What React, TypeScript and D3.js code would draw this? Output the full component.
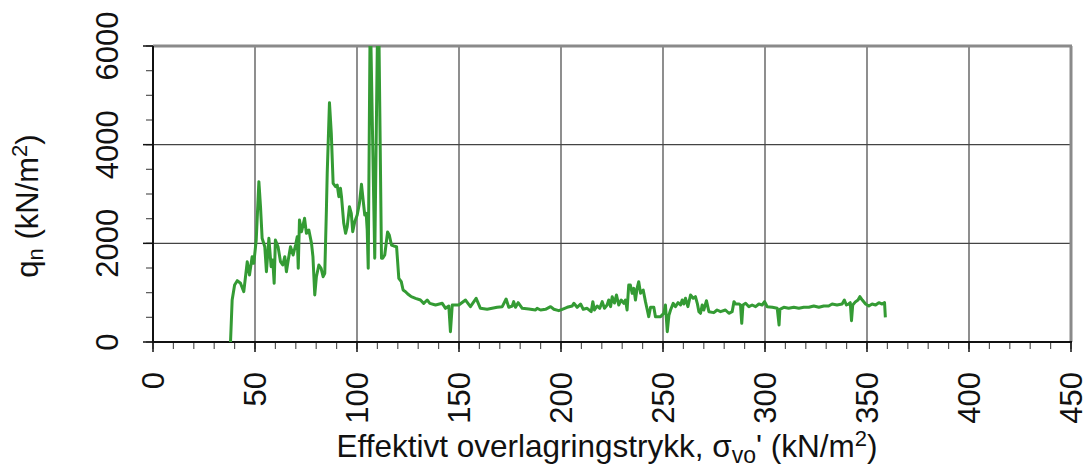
import React from 'react';
import * as d3 from 'd3';

// Tick labels
const xTickValues = [0, 50, 100, 150, 200, 250, 300, 350, 400, 450];
const yTickValues = [0, 2000, 4000, 6000];

// Effective overburden stress σvo' (kN/m2)
const stress = [
  38.0, 38.8, 40.0, 41.3, 42.9, 44.5, 46.2, 47.3, 48.6, 49.4, 50.6, 51.9, 52.7, 53.5, 54.8, 55.6,
  56.8, 57.9, 58.7, 59.4, 60.0, 61.3, 62.5, 63.6, 64.6, 65.4, 66.3, 67.4, 68.7, 69.9, 70.7, 71.2,
  71.8, 72.8, 74.3, 75.2, 76.4, 77.7, 78.4, 79.3, 80.1, 81.3, 82.4, 83.4, 84.2, 85.0, 85.4, 86.5,
  87.4, 88.3, 89.5, 90.3, 91.1, 91.9, 92.4, 93.5, 94.4, 95.2, 96.3, 97.2, 97.9, 98.9, 100.1, 101.2,
  102.2, 103.0, 103.8, 104.5, 105.0, 105.5, 106.5, 108.7, 110.4, 112.0, 112.6, 113.6, 114.5, 115.0,
  115.8, 116.9, 118.0, 119.4, 120.5, 121.7, 122.6, 123.8, 124.9, 126.6, 128.7, 131.1, 132.7, 134.4,
  135.7, 138.5, 141.8, 143.4, 145.0, 145.8, 146.7, 149.9, 153.2, 155.6, 158.4, 160.5, 163.8, 168.7,
  171.2, 173.1, 174.4, 176.1, 176.8, 177.7, 179.0, 181.0, 184.2, 187.5, 188.3, 190.0, 192.4, 194.9,
  196.5, 198.9, 200.6, 203.0, 205.5, 206.3, 207.9, 209.6, 210.9, 212.8, 214.8, 215.6, 216.4, 217.7,
  219.0, 220.2, 221.3, 222.6, 223.4, 224.3, 225.1, 226.2, 227.2, 228.3, 229.5, 230.8, 231.6, 232.4,
  233.2, 234.0, 234.9, 235.7, 236.5, 237.3, 238.1, 239.0, 240.3, 241.4, 242.3, 243.0, 243.9, 245.5,
  246.3, 248.8, 250.4, 251.2, 252.1, 252.9, 253.7, 255.0, 256.1, 257.4, 258.6, 259.4, 260.2, 261.0,
  262.2, 263.5, 264.8, 265.9, 266.8, 267.6, 268.4, 269.2, 270.0, 271.3, 272.5, 274.9, 276.5, 278.2,
  280.6, 282.3, 283.9, 284.8, 285.6, 287.3, 288.0, 288.6, 289.2, 290.5, 292.1, 293.7, 295.4, 297.0,
  298.6, 299.8, 301.1, 303.6, 306.0, 306.9, 307.3, 309.2, 311.6, 314.1, 316.6, 319.0, 321.5, 323.9,
  326.4, 328.8, 331.2, 332.9, 335.3, 337.8, 338.9, 339.9, 341.0, 341.8, 342.4, 343.0, 344.4, 345.6,
  346.5, 347.7, 349.3, 350.9, 352.5, 354.2, 355.8, 357.4, 358.6, 359.0,
];

// Net cone resistance qn (kN/m2)
const qn = [
  0, 851, 1155, 1243, 1190, 1020, 1628, 1358, 1730, 1595, 2068, 3250, 2743, 2102, 1932, 1425,
  2102, 1527, 1662, 1190, 2068, 1932, 1628, 1561, 1730, 1425, 1662, 1932, 1764, 1966, 2135, 1494,
  2473, 2236, 2507, 2203, 2270, 2000, 1730, 953, 1324, 1561, 1494, 1324, 1392, 2676, 3420, 4851,
  4230, 3217, 3149, 3183, 2946, 3115, 2946, 2406, 2203, 2338, 2743, 2609, 2236, 2439, 2574, 2811,
  3197, 2878, 2574, 2609, 2270, 1494, 6800, 1700, 7500, 1700, 1700, 1764, 2068, 2230,
  2170, 1966, 1946, 1932, 1291, 1223, 1054, 1020, 973, 919, 886, 851, 784, 851,
  784, 750, 784, 683, 730, 209, 750, 750, 851, 716, 886, 683, 663, 703,
  716, 872, 703, 730, 818, 703, 797, 683, 669, 649, 683, 649, 663, 716,
  663, 635, 663, 703, 730, 784, 703, 770, 663, 683, 615, 818, 649, 730,
  683, 818, 683, 750, 851, 716, 919, 790, 953, 750, 851, 784, 851, 649,
  1155, 1155, 987, 1088, 851, 1088, 1223, 987, 1054, 818, 649, 514, 703, 703,
  514, 514, 582, 750, 209, 541, 649, 784, 716, 797, 750, 851, 770, 886,
  716, 953, 886, 919, 784, 615, 582, 750, 649, 838, 615, 595, 649, 615,
  649, 582, 615, 818, 770, 770, 750, 379, 750, 784, 716, 750, 716, 770,
  750, 818, 716, 703, 683, 345, 663, 703, 683, 703, 683, 703, 703, 730,
  703, 730, 730, 770, 750, 770, 851, 750, 770, 797, 433, 750, 818, 851,
  919, 851, 770, 730, 770, 750, 797, 770, 797, 500,
];

const W = 1090;
const H = 469;
const left = 153;
const right = 1071;
const top = 46;
const bottom = 342;
const font = "'Liberation Sans', Arial, sans-serif";

export default function App() {
  const x = d3.scaleLinear().domain([0, 450]).range([left, right]);
  const y = d3.scaleLinear().domain([0, 6000]).range([bottom, top]);
  const points: [number, number][] = stress.map((s, i) => [s, qn[i]]);
  const line = d3
    .line<[number, number]>()
    .x((d) => x(d[0]))
    .y((d) => y(d[1]));
  const xMinor = d3.range(0, 451, 10);
  const yMinor = d3.range(0, 6001, 500);

  return (
    <svg
      width={W}
      height={H}
      style={{ position: 'absolute', left: 0, top: 0, background: '#fff' }}
      fontFamily={font}
    >
      <defs>
        <clipPath id="plotclip">
          <rect x={left} y={top} width={right - left} height={bottom - top} />
        </clipPath>
      </defs>
      <rect x={0} y={0} width={W} height={H} fill="#fff" />
      {/* grid */}
      {xTickValues.slice(1).map((v) => (
        <line key={'gx' + v} x1={x(v)} x2={x(v)} y1={top} y2={bottom} stroke="#444" strokeWidth={1.2} />
      ))}
      {yTickValues.slice(1).map((v) => (
        <line key={'gy' + v} x1={left} x2={right} y1={y(v)} y2={y(v)} stroke="#444" strokeWidth={1.2} />
      ))}
      {/* frame top/right */}
      <line x1={left} x2={right + 1} y1={top} y2={top} stroke="#8a8a8a" strokeWidth={3} />
      <line x1={right} x2={right} y1={top} y2={bottom} stroke="#8a8a8a" strokeWidth={3} />
      {/* minor ticks */}
      {xMinor.map((v) => (
        <line key={'mx' + v} x1={x(v)} x2={x(v)} y1={bottom} y2={bottom + 7} stroke="#555" strokeWidth={1.2} />
      ))}
      {yMinor.map((v) => (
        <line key={'my' + v} x1={left - 7} x2={left} y1={y(v)} y2={y(v)} stroke="#555" strokeWidth={1.2} />
      ))}
      {/* major ticks */}
      {xTickValues.map((v) => (
        <line key={'tx' + v} x1={x(v)} x2={x(v)} y1={bottom} y2={bottom + 10} stroke="#111" strokeWidth={1.5} />
      ))}
      {yTickValues.map((v) => (
        <line key={'ty' + v} x1={left - 10} x2={left} y1={y(v)} y2={y(v)} stroke="#111" strokeWidth={1.5} />
      ))}
      {/* axes */}
      <line x1={left} x2={left} y1={top} y2={bottom + 1} stroke="#111" strokeWidth={2} />
      <line x1={left - 1} x2={right + 1} y1={bottom} y2={bottom} stroke="#111" strokeWidth={2} />
      {/* data */}
      <path
        d={line(points) || ''}
        fill="none"
        stroke="#349b34"
        strokeWidth={3}
        strokeLinejoin="round"
        clipPath="url(#plotclip)"
      />
      {/* tick labels */}
      {xTickValues.map((v) => (
        <text
          key={'lx' + v}
          transform={`translate(${x(v) + 11},372) rotate(-90)`}
          textAnchor="end"
          fontSize={31}
          fill="#111"
        >
          {v}
        </text>
      ))}
      {yTickValues.map((v) => (
        <text
          key={'ly' + v}
          transform={`translate(118,${y(v)}) rotate(-90)`}
          textAnchor="middle"
          fontSize={31}
          fill="#111"
        >
          {v}
        </text>
      ))}
      {/* axis titles */}
      <text transform="translate(38,206) rotate(-90)" textAnchor="middle" fontSize={31} fill="#111">
        q<tspan fontSize={22} dy={5}>n</tspan>
        <tspan dy={-5}> (kN/m</tspan>
        <tspan fontSize={22} dy={-11}>2</tspan>
        <tspan dy={11}>)</tspan>
      </text>
      <text x={607} y={457} textAnchor="middle" fontSize={31.5} fill="#111">
        Effektivt overlagringstrykk, σ<tspan fontSize={23} dy={6}>vo</tspan>
        <tspan dy={-6}>' (kN/m</tspan>
        <tspan fontSize={22} dy={-11}>2</tspan>
        <tspan dy={11}>)</tspan>
      </text>
    </svg>
  );
}
